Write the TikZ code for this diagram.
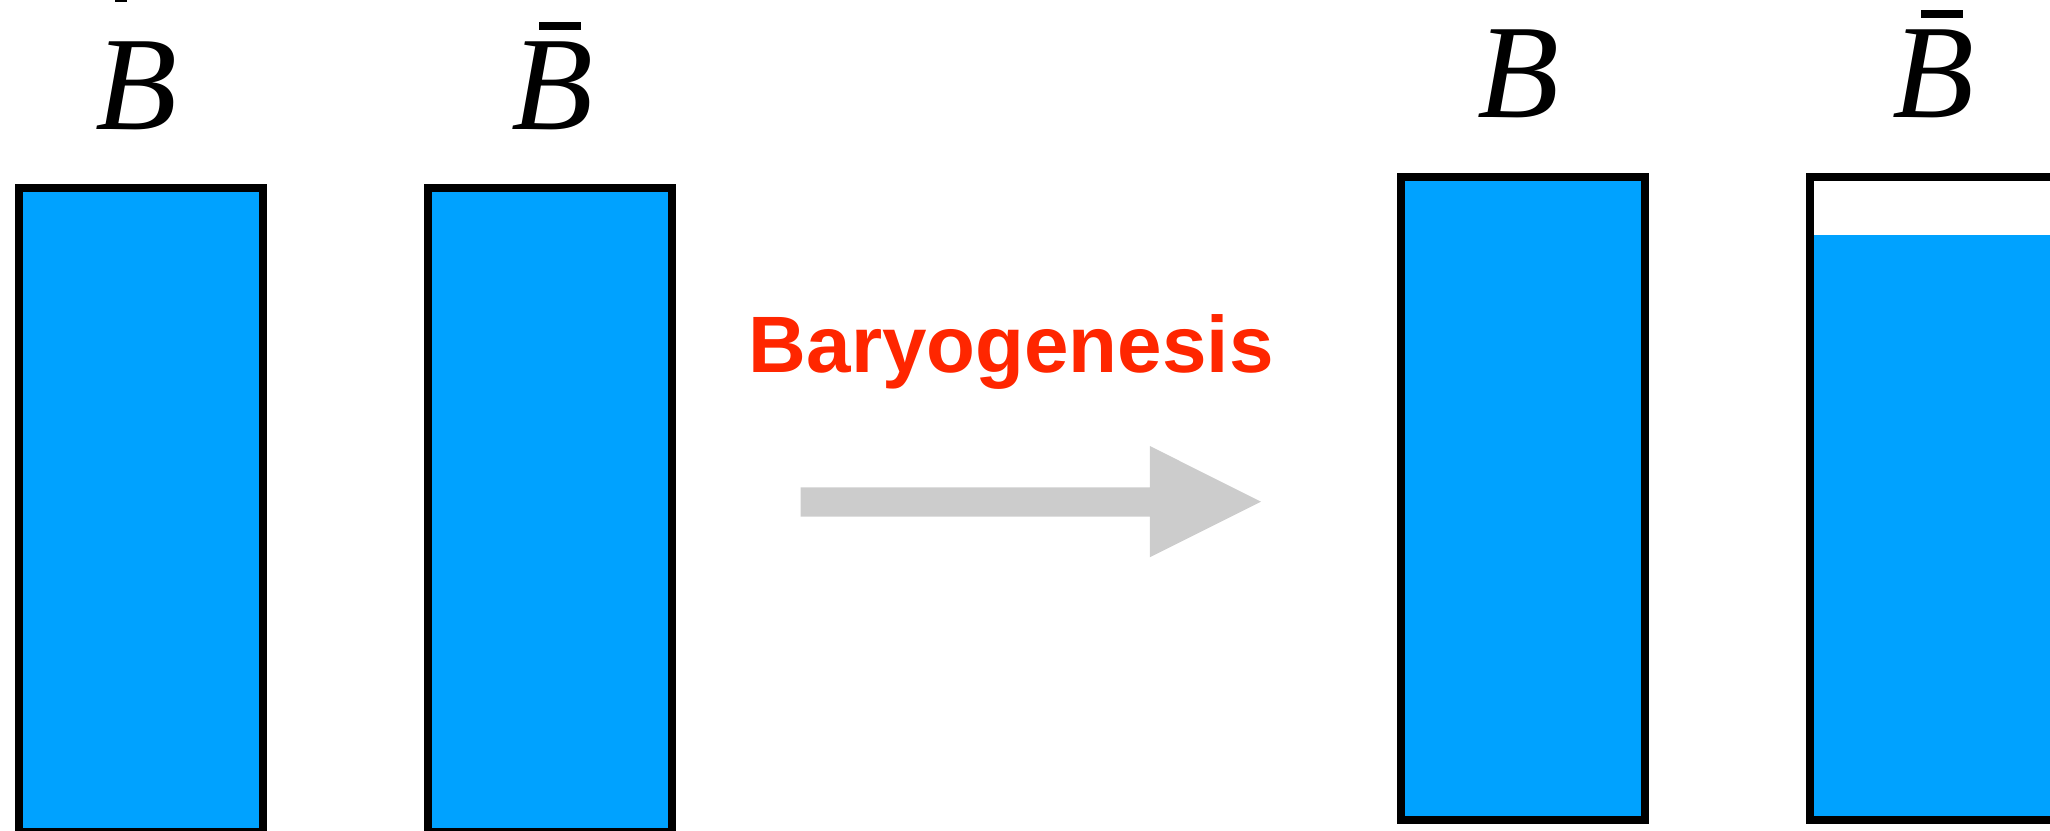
\documentclass[tikz,border=0pt]{standalone}
\usepackage{fontspec}
\setmainfont{Liberation Serif}
\newfontfamily\titlesans{Liberation Sans}
\definecolor{fillblue}{HTML}{00A2FF}
\definecolor{titlered}{HTML}{FF2600}
\definecolor{arrowgray}{HTML}{CCCCCC}
\begin{document}
\begin{tikzpicture}[x=0.5pt,y=-0.5pt,
  binbox/.style={draw=black,line width=4pt,fill=fillblue},
  binframe/.style={draw=black,line width=4pt},
  blabel/.style={inner sep=0pt,anchor=base west,font=\fontsize{67pt}{70pt}\selectfont\itshape},
  barmark/.style={fill=black},
  titletext/.style={inner sep=0pt,anchor=base west,text=titlered,font=\titlesans\bfseries\fontsize{40pt}{44pt}\selectfont},
  bigarrow/.style={fill=arrowgray}]
\useasboundingbox (0,0) rectangle (2050,830);
\clip (0,0) rectangle (2050,830);
% tiny mark at top edge
\fill[barmark] (115,0) rectangle (127,1.5);
% before
\draw[binbox] (19,188.3) rectangle (263,832);
\draw[binbox] (428,188.3) rectangle (672,832);
\node[blabel] (bl1) at (95.5,129) {B};
\node[blabel] (bl2) at (511,129) {B};
\fill[barmark] (539,22) rectangle (581,30);
% title and arrow
\node[titletext] (title) at (748.5,372) {Baryogenesis};
\fill[bigarrow] (800.7,487.3) -- (1149.8,487.3) -- (1149.8,446) -- (1261,501.7)
  -- (1149.8,557.3) -- (1149.8,516.7) -- (800.7,516.7) -- cycle;
% after
\draw[binbox] (1401,176.5) rectangle (1645,820);
\fill[fillblue] (1810,235) rectangle (2054,820);
\draw[binframe] (1810,176.5) rectangle (2054,820);
\node[blabel] (bl3) at (1477,117) {B};
\node[blabel] (bl4) at (1892.5,117) {B};
\fill[barmark] (1920.5,10) rectangle (1963,18);
\end{tikzpicture}
\end{document}
